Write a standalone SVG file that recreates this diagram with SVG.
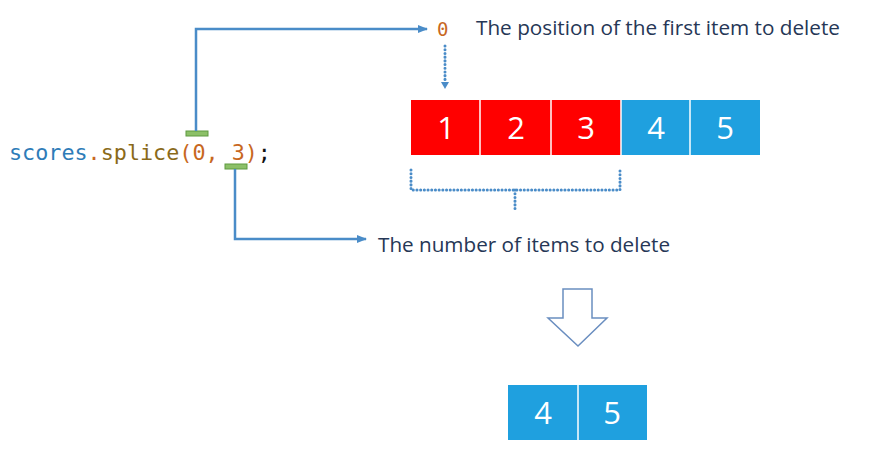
<svg xmlns="http://www.w3.org/2000/svg" width="881" height="456" viewBox="0 0 881 456">
<style>
.lbl{font-family:"Open Sans","Noto Sans",sans-serif;font-size:20px;fill:#263756}
.num{font-family:"Open Sans","Noto Sans",sans-serif;font-size:31px;fill:#fff;text-anchor:middle}
.code{font-family:"DejaVu Sans Mono","Liberation Mono",monospace;font-size:21px}
.red{fill:#ff0000}
.blue{fill:#1fa0df}
.sep{stroke:#fff;stroke-width:1.5}
.conn{fill:none;stroke:#4a8cc8;stroke-width:2.5}
.dot{fill:none;stroke:#4a8cc8;stroke-width:3;stroke-linecap:round;stroke-dasharray:0.1 3.6}
.mark{fill:#8cc068;stroke:#5e9a40;stroke-width:1}
</style>
<defs>
<marker id="ah" viewBox="0 0 10 10" refX="9" refY="5" markerWidth="4" markerHeight="4" orient="auto" markerUnits="strokeWidth">
<path d="M0,1 L10,5 L0,9 Z" fill="#4a8cc8"/>
</marker>
</defs>
<g id="code">
<text class="code" x="9" y="160" textLength="262" lengthAdjust="spacingAndGlyphs"><tspan fill="#2e7cb8">scores</tspan><tspan fill="#c8681f">.</tspan><tspan fill="#8a6a1a">splice</tspan><tspan fill="#c8681f">(0, 3)</tspan><tspan fill="#111">;</tspan></text>
<rect class="mark" x="186" y="131" width="22" height="5"/>
<rect class="mark" x="225" y="164" width="22" height="5"/>
</g>
<g id="connectors">
<polyline class="conn" points="196,131 196,29 427,29" marker-end="url(#ah)"/>
<polyline class="conn" points="235,169 235,239 366,239" marker-end="url(#ah)"/>
<line class="dot" x1="445" y1="46" x2="445" y2="82"/>
<path d="M441,82 L449,82 L445,89 Z" fill="#4a8cc8"/>
<path class="dot" d="M411,170 V190 H620 V170 M515,190 V212"/>
</g>
<g id="start-label">
<text x="437" y="36" font-family="DejaVu Sans Mono,monospace" font-size="19" fill="#c8681f">0</text>
<text class="lbl" x="476" y="35" textLength="364" lengthAdjust="spacingAndGlyphs">The position of the first item to delete</text>
</g>
<g id="count-label">
<text class="lbl" x="378" y="252" textLength="292" lengthAdjust="spacingAndGlyphs">The number of items to delete</text>
</g>
<g id="array">
<rect class="red" x="411" y="100" width="210" height="55"/>
<rect class="blue" x="621" y="100" width="139" height="55"/>
<line class="sep" x1="480" y1="100" x2="480" y2="155"/>
<line class="sep" x1="551" y1="100" x2="551" y2="155"/>
<line class="sep" x1="621" y1="100" x2="621" y2="155"/>
<line class="sep" x1="690" y1="100" x2="690" y2="155"/>
<text class="num" x="446" y="139">1</text>
<text class="num" x="516" y="139">2</text>
<text class="num" x="586" y="139">3</text>
<text class="num" x="656" y="139">4</text>
<text class="num" x="725" y="139">5</text>
</g>
<g id="down-arrow">
<path d="M563,289 H592 V318 H607 L578,346 L548,318 H563 Z" fill="#fff" stroke="#6a8ec0" stroke-width="1.5"/>
</g>
<g id="result">
<rect class="blue" x="508" y="385" width="139" height="55"/>
<line class="sep" x1="578" y1="385" x2="578" y2="440"/>
<text class="num" x="543" y="424">4</text>
<text class="num" x="612" y="424">5</text>
</g>
</svg>
